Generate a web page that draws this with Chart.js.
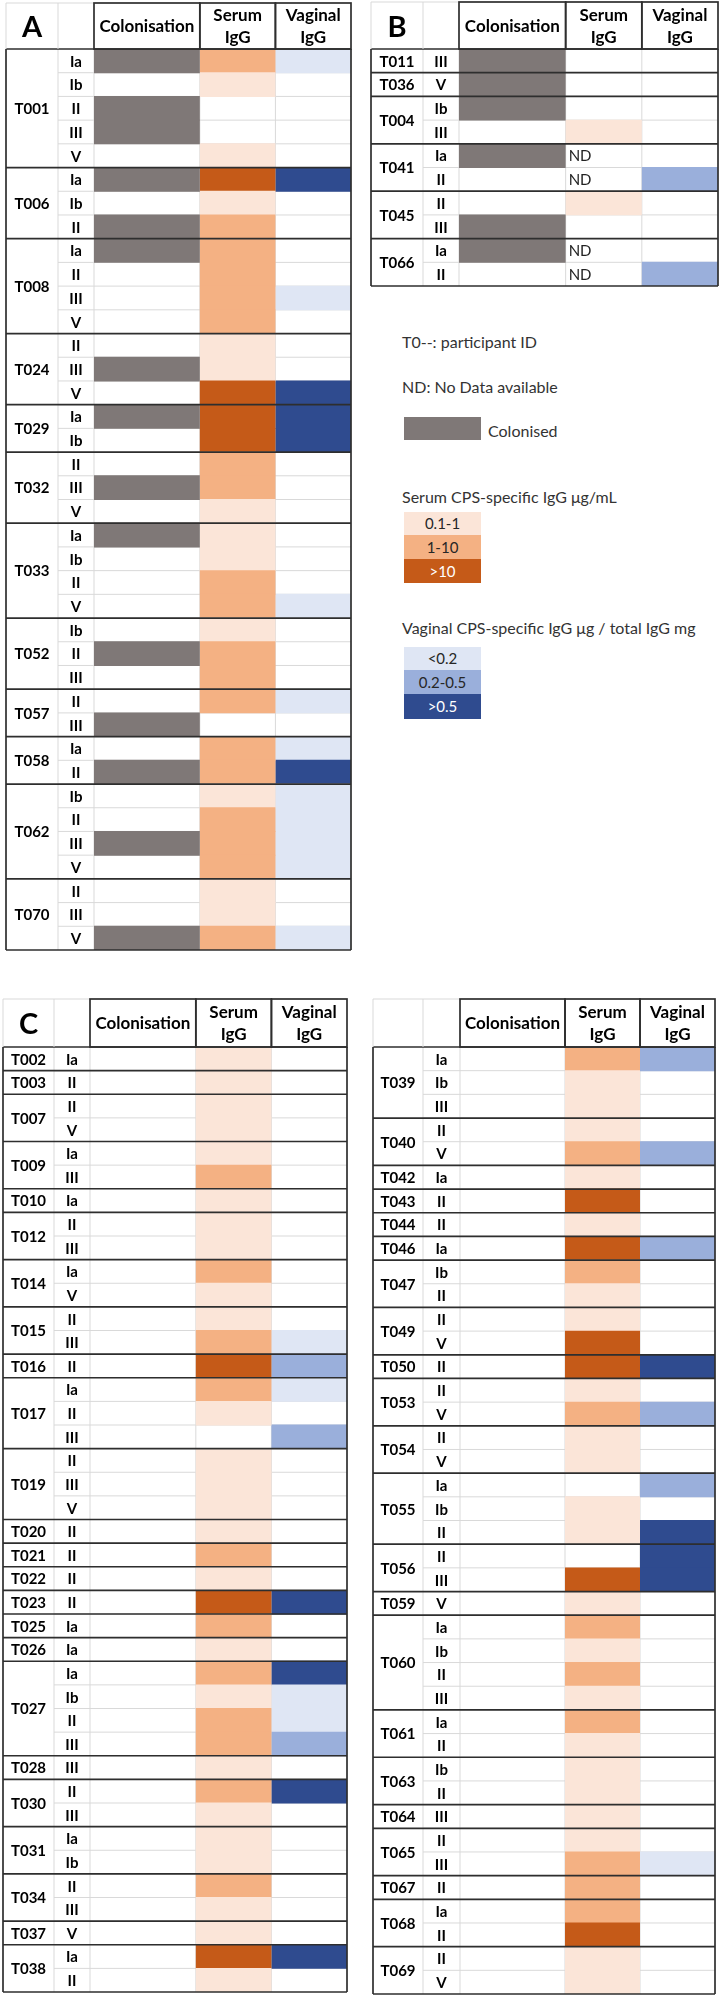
<!DOCTYPE html>
<html>
<head>
<meta charset="utf-8">
<script src="https://cdn.jsdelivr.net/npm/chart.js@4.4.0/dist/chart.umd.min.js"></script>
<style>
  body { margin: 0; background: #fff; width: 720px; height: 1997px; position: relative; overflow: hidden; }
  .panel { position: absolute; }
  .txt { position: absolute; left: 402px; font-family: Lato, "Open Sans", sans-serif; font-size: 16px; color: #333; line-height: 20px; white-space: nowrap; }
  .sw { position: absolute; left: 404px; width: 77px; font-family: Lato, "Open Sans", sans-serif; font-size: 15px; color: #262626; text-align: center; }
</style>
</head>
<body>
<div class="panel" id="boxA"><canvas id="chartA"></canvas></div>
<div class="panel" id="boxB"><canvas id="chartB"></canvas></div>
<div class="panel" id="boxC1"><canvas id="chartC1"></canvas></div>
<div class="panel" id="boxC2"><canvas id="chartC2"></canvas></div>

<div class="txt" style="top:332px">T0--: participant ID</div>
<div class="txt" style="top:377px">ND: No Data available</div>
<div class="sw" style="top:417px;height:23px;background:#7f7877"></div>
<div class="txt" style="left:488px;top:421px">Colonised</div>
<div class="txt" style="top:487px">Serum CPS-specific IgG μg/mL</div>
<div class="sw" style="top:512px;height:23px;line-height:23px;background:#fbe5d8">0.1-1</div>
<div class="sw" style="top:535px;height:24px;line-height:24px;background:#f4b183">1-10</div>
<div class="sw" style="top:559px;height:24px;line-height:24px;background:#c55a18;color:#fff">&gt;10</div>
<div class="txt" style="top:618px">Vaginal CPS-specific IgG μg / total IgG mg</div>
<div class="sw" style="top:647px;height:23px;line-height:23px;background:#dfe6f4">&lt;0.2</div>
<div class="sw" style="top:670px;height:24px;line-height:24px;background:#9aafdb">0.2-0.5</div>
<div class="sw" style="top:694px;height:25px;line-height:25px;background:#2f4b8f;color:#fff">&gt;0.5</div>

<script>
// levels: serum 1 = 0.1-1, 2 = 1-10, 3 = >10 ug/mL ; vaginal 1 = <0.2, 2 = 0.2-0.5, 3 = >0.5
// panel A
const idsA = ['T001', 'T006', 'T008', 'T024', 'T029', 'T032', 'T033', 'T052', 'T057', 'T058', 'T062', 'T070'];
const serotypesA = [['Ia', 'Ib', 'II', 'III', 'V'], ['Ia', 'Ib', 'II'], ['Ia', 'II', 'III', 'V'], ['II', 'III', 'V'], ['Ia', 'Ib'],
  ['II', 'III', 'V'], ['Ia', 'Ib', 'II', 'V'], ['Ib', 'II', 'III'], ['II', 'III'], ['Ia', 'II'], ['Ib', 'II', 'III', 'V'], ['II', 'III', 'V']];
const colonisedA = [[1, 0, 1, 1, 0], [1, 0, 1], [1, 0, 0, 0], [0, 1, 0], [1, 0], [0, 1, 0], [1, 0, 0, 0], [0, 1, 0], [0, 1], [0, 1], [0, 0, 1, 0], [0, 0, 1]];
const serumA = [[2, 1, 0, 0, 1], [3, 1, 2], [2, 2, 2, 2], [1, 1, 3], [3, 3], [2, 2, 1], [1, 1, 2, 2], [1, 2, 2], [2, 0], [2, 2], [1, 2, 2, 2], [1, 1, 2]];
const vaginalA = [[1, 0, 0, 0, 0], [3, 0, 0], [0, 0, 1, 0], [0, 0, 3], [3, 3], [0, 0, 0], [0, 0, 0, 1], [0, 0, 0], [1, 0], [1, 3], [1, 1, 1, 1], [0, 0, 1]];

// panel B
const idsB = ['T011', 'T036', 'T004', 'T041', 'T045', 'T066'];
const serotypesB = [['III'], ['V'], ['Ib', 'III'], ['Ia', 'II'], ['II', 'III'], ['Ia', 'II']];
const colonisedB = [[1], [1], [1, 0], [1, 0], [0, 1], [1, 0]];
const serumB = [[0], [0], [0, 1], ['ND', 'ND'], [1, 0], ['ND', 'ND']];
const vaginalB = [[0], [0], [0, 0], [0, 2], [0, 0], [0, 2]];

// panel C (not colonised), left half
const idsC1 = ['T002', 'T003', 'T007', 'T009', 'T010', 'T012', 'T014', 'T015', 'T016', 'T017', 'T019', 'T020',
  'T021', 'T022', 'T023', 'T025', 'T026', 'T027', 'T028', 'T030', 'T031', 'T034', 'T037', 'T038'];
const serotypesC1 = [['Ia'], ['II'], ['II', 'V'], ['Ia', 'III'], ['Ia'], ['II', 'III'], ['Ia', 'V'], ['II', 'III'], ['II'], ['Ia', 'II', 'III'],
  ['II', 'III', 'V'], ['II'], ['II'], ['II'], ['II'], ['Ia'], ['Ia'], ['Ia', 'Ib', 'II', 'III'], ['III'], ['II', 'III'], ['Ia', 'Ib'], ['II', 'III'], ['V'], ['Ia', 'II']];
const serumC1 = [[1], [1], [1, 1], [1, 2], [1], [1, 1], [2, 1], [1, 2], [3], [2, 1, 0], [1, 1, 1], [1], [2], [1], [3], [2], [1],
  [2, 1, 2, 2], [1], [2, 1], [1, 1], [2, 1], [1], [3, 1]];
const vaginalC1 = [[0], [0], [0, 0], [0, 0], [0], [0, 0], [0, 0], [0, 1], [2], [1, 0, 2], [0, 0, 0], [0], [0], [0], [3], [0], [0],
  [3, 1, 1, 2], [0], [3, 0], [0, 0], [0, 0], [0], [3, 0]];

// panel C, right half
const idsC2 = ['T039', 'T040', 'T042', 'T043', 'T044', 'T046', 'T047', 'T049', 'T050', 'T053', 'T054', 'T055', 'T056',
  'T059', 'T060', 'T061', 'T063', 'T064', 'T065', 'T067', 'T068', 'T069'];
const serotypesC2 = [['Ia', 'Ib', 'III'], ['II', 'V'], ['Ia'], ['II'], ['II'], ['Ia'], ['Ib', 'II'], ['II', 'V'], ['II'], ['II', 'V'], ['II', 'V'],
  ['Ia', 'Ib', 'II'], ['II', 'III'], ['V'], ['Ia', 'Ib', 'II', 'III'], ['Ia', 'II'], ['Ib', 'II'], ['III'], ['II', 'III'], ['II'], ['Ia', 'II'], ['II', 'V']];
const serumC2 = [[2, 1, 1], [1, 2], [1], [3], [1], [3], [2, 1], [1, 3], [3], [1, 2], [1, 1], [0, 1, 1], [0, 3], [1], [2, 1, 2, 1],
  [2, 1], [1, 1], [1], [1, 2], [2], [2, 3], [1, 1]];
const vaginalC2 = [[2, 0, 0], [0, 2], [0], [0], [0], [2], [0, 0], [0, 0], [3], [0, 2], [0, 0], [2, 0, 3], [3, 3], [0], [0, 0, 0, 0],
  [0, 0], [0, 0], [0], [0, 1], [0], [0, 0], [0, 0]];

const headers = [['Colonisation'], ['Serum', 'IgG'], ['Vaginal', 'IgG']];
const colEdges = [0, 1.4, 2.4, 3.4];

const COLORS = {
  colonised: '#7f7877',
  serum: [null, '#fbe5d8', '#f4b183', '#c55a18'],
  vaginal: [null, '#dfe6f4', '#9aafdb', '#2f4b8f'],
  dark: '#2e2e2e',
  light: '#d9d9d9'
};

function line(ctx, x1, y1, x2, y2) {
  ctx.beginPath();
  ctx.moveTo(x1, y1);
  ctx.lineTo(x2, y2);
  ctx.stroke();
}

const tablePlugin = {
  id: 'table',
  beforeDatasetsDraw(chart) {
    const cfg = chart.options.plugins.table;
    const {ctx, chartArea: a, scales: {x, y}} = chart;
    const n = chart.data.labels.length;
    const rowH = (a.bottom - a.top) / n;
    const seroLeft = a.left - cfg.seroW;
    ctx.save();
    ctx.strokeStyle = COLORS.light;
    ctx.lineWidth = 1;
    for (let i = 1; i < n; i++) {
      const py = y.getPixelForValue(i) - rowH / 2;
      line(ctx, seroLeft, py, a.right, py);
    }
    [seroLeft, a.left, x.getPixelForValue(colEdges[1]), x.getPixelForValue(colEdges[2])].forEach(px => line(ctx, px, a.top, px, a.bottom));
    ctx.restore();
  },
  afterDatasetsDraw(chart) {
    const cfg = chart.options.plugins.table;
    const {ctx, chartArea: a, scales: {x, y}} = chart;
    const labels = chart.data.labels;
    const n = labels.length;
    const rowH = (a.bottom - a.top) / n;
    const seroLeft = a.left - cfg.seroW;
    const idLeft = seroLeft - cfg.idW;
    const f = cfg.font;
    ctx.save();
    ctx.fillStyle = '#000';
    ctx.textBaseline = 'middle';

    // ND cells
    if (cfg.serum) {
      ctx.font = `${f.ndSize}px ${f.family}`;
      ctx.textAlign = 'left';
      ctx.fillStyle = '#222';
      cfg.serum.flat().forEach((v, i) => {
        if (v === 'ND') ctx.fillText('ND', x.getPixelForValue(colEdges[1]) + 3, y.getPixelForValue(i) + 1);
      });
    }

    // serotype labels
    ctx.fillStyle = '#000';
    ctx.font = `bold ${f.size}px ${f.family}`;
    ctx.textAlign = 'center';
    labels.forEach((s, i) => ctx.fillText(s, seroLeft + cfg.seroW / 2, y.getPixelForValue(i) + 1));

    // participant ids + dark group lines
    ctx.strokeStyle = COLORS.dark;
    ctx.lineWidth = 1.7;
    let start = 0;
    cfg.ids.forEach((id, g) => {
      const count = cfg.serotypes[g].length;
      const top = y.getPixelForValue(start) - rowH / 2;
      const bottom = y.getPixelForValue(start + count - 1) + rowH / 2;
      ctx.fillText(id, idLeft + cfg.idW / 2, (top + bottom) / 2 + 1);
      if (g > 0) line(ctx, idLeft, top, a.right, top);
      start += count;
    });
    line(ctx, idLeft, a.top, a.right, a.top);
    line(ctx, idLeft, a.bottom, a.right, a.bottom);
    line(ctx, idLeft, a.top, idLeft, a.bottom);
    line(ctx, a.right, a.top, a.right, a.bottom);

    // header row
    const hTop = a.top - cfg.headH;
    ctx.strokeStyle = COLORS.light;
    ctx.lineWidth = 1;
    line(ctx, idLeft, hTop, a.left, hTop);
    line(ctx, idLeft, hTop, idLeft, a.top);
    line(ctx, seroLeft, hTop, seroLeft, a.top);
    ctx.strokeStyle = COLORS.dark;
    ctx.lineWidth = 1.7;
    const mid = hTop + cfg.headH / 2 + 1;
    ctx.font = `bold ${f.headSize}px ${f.family}`;
    headers.forEach((lines, c) => {
      const x0 = x.getPixelForValue(colEdges[c]);
      const x1 = x.getPixelForValue(colEdges[c + 1]);
      ctx.strokeRect(x0, hTop, x1 - x0, cfg.headH);
      lines.forEach((t, k) => {
        const off = (k - (lines.length - 1) / 2) * f.headGap;
        ctx.fillText(t, (x0 + x1) / 2, mid + off);
      });
    });
    if (cfg.letter) {
      ctx.font = `bold ${f.letterSize}px ${f.family}`;
      ctx.fillText(cfg.letter, idLeft + cfg.idW / 2, mid + 1);
    }
    ctx.restore();
  }
};

function makePanel(cfg) {
  const m = 2;
  const box = document.getElementById(cfg.box);
  box.style.left = (cfg.left - m) + 'px';
  box.style.top = (cfg.top - m) + 'px';
  box.style.width = (cfg.right - cfg.left + 2 * m) + 'px';
  box.style.height = (cfg.bottom - cfg.top + 2 * m) + 'px';

  const labels = cfg.serotypes.flat();
  const serum = cfg.serum.flat();
  const vaginal = cfg.vaginal.flat();
  const bar = {grouped: false, categoryPercentage: 1, barPercentage: 1.04, borderWidth: 0};
  const datasets = [];
  if (cfg.colonised) {
    const col = cfg.colonised.flat();
    datasets.push(Object.assign({
      label: 'Colonisation',
      data: col.map(v => v ? [colEdges[0], colEdges[1]] : null),
      backgroundColor: COLORS.colonised
    }, bar));
  }
  datasets.push(Object.assign({
    label: 'Serum IgG',
    data: serum.map(v => typeof v === 'number' && v > 0 ? [colEdges[1], colEdges[2]] : null),
    backgroundColor: serum.map(v => COLORS.serum[v] || 'rgba(0,0,0,0)')
  }, bar));
  datasets.push(Object.assign({
    label: 'Vaginal IgG',
    data: vaginal.map(v => v > 0 ? [colEdges[2], colEdges[3]] : null),
    backgroundColor: vaginal.map(v => COLORS.vaginal[v] || 'rgba(0,0,0,0)')
  }, bar));

  new Chart(document.getElementById(cfg.canvas), {
    type: 'bar',
    data: {labels, datasets},
    options: {
      indexAxis: 'y',
      responsive: true,
      maintainAspectRatio: false,
      animation: false,
      layout: {padding: {left: m + cfg.idW + cfg.seroW, top: m + cfg.headH, right: m, bottom: m}},
      scales: {
        x: {type: 'linear', min: colEdges[0], max: colEdges[3], display: false},
        y: {type: 'category', display: false, offset: true}
      },
      plugins: {legend: {display: false}, tooltip: {enabled: false}, table: cfg}
    },
    plugins: [tablePlugin]
  });
}

const calibriLike = {family: 'Lato, "Open Sans", sans-serif', size: 15, headSize: 17, headGap: 22, letterSize: 29, ndSize: 15};

makePanel({box: 'boxA', canvas: 'chartA', letter: 'A', left: 6, top: 3, right: 351, bottom: 950, idW: 52, seroW: 36, headH: 46,
  font: calibriLike, ids: idsA, serotypes: serotypesA, colonised: colonisedA, serum: serumA, vaginal: vaginalA});
makePanel({box: 'boxB', canvas: 'chartB', letter: 'B', left: 371, top: 2, right: 718, bottom: 286, idW: 52, seroW: 36, headH: 47,
  font: calibriLike, ids: idsB, serotypes: serotypesB, colonised: colonisedB, serum: serumB, vaginal: vaginalB});
makePanel({box: 'boxC1', canvas: 'chartC1', letter: 'C', left: 3, top: 999, right: 347, bottom: 1992, idW: 51, seroW: 36, headH: 48,
  font: calibriLike, ids: idsC1, serotypes: serotypesC1, serum: serumC1, vaginal: vaginalC1});
makePanel({box: 'boxC2', canvas: 'chartC2', letter: '', left: 373, top: 999, right: 715, bottom: 1994, idW: 50, seroW: 37, headH: 48,
  font: calibriLike, ids: idsC2, serotypes: serotypesC2, serum: serumC2, vaginal: vaginalC2});
</script>
</body>
</html>
